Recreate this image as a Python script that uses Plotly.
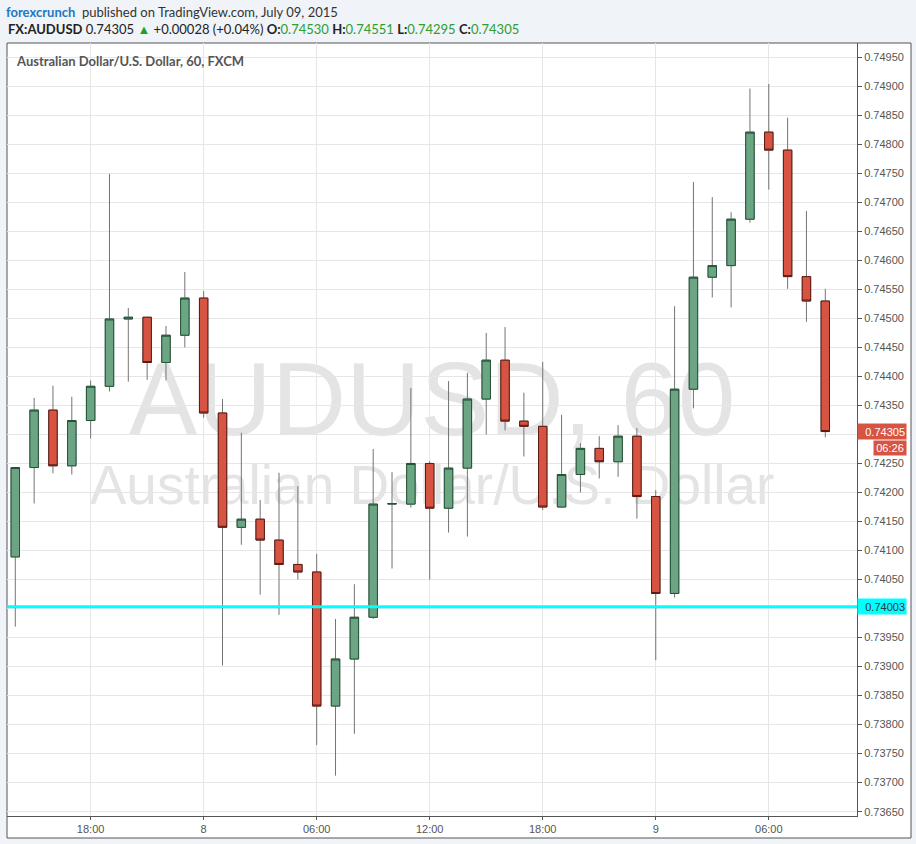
import plotly.graph_objects as go

# Hourly AUD/USD candles, 2015-07-07 14:00 .. 2015-07-09 09:00
times = [
    "2015-07-07 14:00", "2015-07-07 15:00", "2015-07-07 16:00", "2015-07-07 17:00",
    "2015-07-07 18:00", "2015-07-07 19:00", "2015-07-07 20:00", "2015-07-07 21:00",
    "2015-07-07 22:00", "2015-07-07 23:00", "2015-07-08 00:00", "2015-07-08 01:00",
    "2015-07-08 02:00", "2015-07-08 03:00", "2015-07-08 04:00", "2015-07-08 05:00",
    "2015-07-08 06:00", "2015-07-08 07:00", "2015-07-08 08:00", "2015-07-08 09:00",
    "2015-07-08 10:00", "2015-07-08 11:00", "2015-07-08 12:00", "2015-07-08 13:00",
    "2015-07-08 14:00", "2015-07-08 15:00", "2015-07-08 16:00", "2015-07-08 17:00",
    "2015-07-08 18:00", "2015-07-08 19:00", "2015-07-08 20:00", "2015-07-08 21:00",
    "2015-07-08 22:00", "2015-07-08 23:00", "2015-07-09 00:00", "2015-07-09 01:00",
    "2015-07-09 02:00", "2015-07-09 03:00", "2015-07-09 04:00", "2015-07-09 05:00",
    "2015-07-09 06:00", "2015-07-09 07:00", "2015-07-09 08:00", "2015-07-09 09:00",
]
opens = [
    0.74089, 0.74243, 0.74342, 0.74246, 0.74324, 0.74383, 0.74499, 0.74502,
    0.74424, 0.74471, 0.74535, 0.74337, 0.74140, 0.74154, 0.74118, 0.74076,
    0.74063, 0.73832, 0.73913, 0.73985, 0.74180, 0.74180, 0.74250, 0.74173,
    0.74242, 0.74361, 0.74428, 0.74323, 0.74314, 0.74175, 0.74231, 0.74276,
    0.74253, 0.74297, 0.74193, 0.74026, 0.74378, 0.74571, 0.74591, 0.74671,
    0.74821, 0.74790, 0.74572, 0.74530,
]
highs = [
    0.74243, 0.74363, 0.74384, 0.74365, 0.74393, 0.74749, 0.74518, 0.74502,
    0.74487, 0.74580, 0.74547, 0.74361, 0.74303, 0.74187, 0.74234, 0.74211,
    0.74094, 0.73982, 0.74042, 0.74275, 0.74235, 0.74380, 0.74254, 0.74392,
    0.74406, 0.74475, 0.74485, 0.74372, 0.74425, 0.74334, 0.74285, 0.74297,
    0.74316, 0.74311, 0.74204, 0.74521, 0.74735, 0.74709, 0.74683, 0.74896,
    0.74904, 0.74846, 0.74685, 0.74551,
]
lows = [
    0.73969, 0.74181, 0.74233, 0.74231, 0.74293, 0.74374, 0.74391, 0.74394,
    0.74393, 0.74450, 0.74329, 0.73902, 0.74110, 0.74024, 0.73989, 0.74050,
    0.73765, 0.73712, 0.73784, 0.73982, 0.74069, 0.74174, 0.74050, 0.74131,
    0.74124, 0.74300, 0.74307, 0.74262, 0.74170, 0.74174, 0.74200, 0.74224,
    0.74227, 0.74155, 0.73911, 0.74019, 0.74345, 0.74536, 0.74519, 0.74665,
    0.74722, 0.74551, 0.74494, 0.74295,
]
closes = [
    0.74243, 0.74342, 0.74246, 0.74324, 0.74383, 0.74499, 0.74502, 0.74424,
    0.74471, 0.74535, 0.74337, 0.74140, 0.74154, 0.74118, 0.74076, 0.74063,
    0.73832, 0.73913, 0.73985, 0.74180, 0.74181, 0.74250, 0.74173, 0.74242,
    0.74361, 0.74428, 0.74323, 0.74314, 0.74175, 0.74231, 0.74276, 0.74253,
    0.74297, 0.74193, 0.74026, 0.74378, 0.74571, 0.74591, 0.74671, 0.74821,
    0.74790, 0.74572, 0.74530, 0.74305,
]

xtick_vals = ["2015-07-07 18:00", "2015-07-08 00:00", "2015-07-08 06:00",
              "2015-07-08 12:00", "2015-07-08 18:00", "2015-07-09 00:00",
              "2015-07-09 06:00"]
xtick_text = ["18:00", "8", "06:00", "12:00", "18:00", "9", "06:00"]
ytick_vals = [round(0.73650 + 0.0005 * i, 5) for i in range(27)]

support_level = 0.74003
last_price = 0.74305
countdown = "06:26"

# labels hidden under the price tags (as in the original)
hidden_ticks = {0.74000, 0.74300}
ytick_text = ["" if v in hidden_ticks else "%.5f" % v for v in ytick_vals]

GREEN, GREEN_EDGE = "#6ba583", "#225437"
RED, RED_EDGE = "#d75442", "#5b1a13"
WICK = "#737375"

body_hi = [max(o, c) for o, c in zip(opens, closes)]
body_lo = [min(o, c) for o, c in zip(opens, closes)]

fig = go.Figure()
# wicks
fig.add_trace(go.Candlestick(
    x=times, open=opens, high=highs, low=lows, close=closes,
    increasing=dict(line=dict(color=WICK, width=1), fillcolor=GREEN),
    decreasing=dict(line=dict(color=WICK, width=1), fillcolor=RED),
    hoverinfo="skip", showlegend=False,
))
# bodies
fig.add_trace(go.Candlestick(
    x=times, open=opens, high=body_hi, low=body_lo, close=closes,
    increasing=dict(line=dict(color=GREEN_EDGE, width=1), fillcolor=GREEN),
    decreasing=dict(line=dict(color=RED_EDGE, width=1), fillcolor=RED),
    hoverinfo="skip", showlegend=False,
))

L, R, T, B = 7, 59, 43, 28
W, H = 916, 844
PW, PH = W - L - R, H - T - B


def px(x):
    return (x - L) / PW


def py(y):
    return (H - B - y) / PH


AXFONT = dict(family="Liberation Sans, Arial, sans-serif", size=11, color="#555555")

fig.update_layout(
    width=W, height=H,
    margin=dict(l=L, r=R, t=T, b=B, pad=0, autoexpand=False),
    paper_bgcolor="#f0f3f7",
    plot_bgcolor="#ffffff",
    boxgap=0.36,
    showlegend=False,
    xaxis=dict(
        type="date",
        range=["2015-07-07 13:33:36", "2015-07-09 10:41:00"],
        rangeslider=dict(visible=False),
        tickvals=xtick_vals, ticktext=xtick_text,
        showgrid=True, gridcolor="#e6e6e6", gridwidth=1,
        showline=True, linecolor="#555555", linewidth=1,
        ticks="outside", ticklen=3, tickcolor="#555555",
        tickfont=AXFONT, zeroline=False,
    ),
    yaxis=dict(
        side="right",
        range=[0.736425, 0.749746],
        tickvals=ytick_vals, ticktext=ytick_text,
        showgrid=True, gridcolor="#e6e6e6", gridwidth=1,
        showline=True, linecolor="#555555", linewidth=1,
        ticks="outside", ticklen=4, tickcolor="#555555",
        tickfont=AXFONT, zeroline=False,
    ),
)

WMFONT = "Liberation Sans, Arial, sans-serif"
shapes = [
    # white chart box including axis areas
    dict(type="rect", xref="paper", yref="paper",
         x0=px(7), x1=px(911), y0=py(838), y1=py(43),
         fillcolor="#ffffff", line=dict(color="#555555", width=1), layer="below"),
    # watermark
    dict(type="rect", xref="paper", yref="paper",
         x0=px(7), x1=px(857), y0=py(434), y1=py(344),
         line=dict(width=0), fillcolor="rgba(0,0,0,0)", layer="below",
         label=dict(text="AUDUSD, 60", textposition="middle center",
                    font=dict(family=WMFONT, size=103, color="#e4e4e4"))),
    dict(type="rect", xref="paper", yref="paper",
         x0=px(7), x1=px(857), y0=py(505), y1=py(455),
         line=dict(width=0), fillcolor="rgba(0,0,0,0)", layer="below",
         label=dict(text="Australian Dollar/U.S. Dollar", textposition="middle center",
                    font=dict(family=WMFONT, size=55, color="#e4e4e4"))),
    # support line
    dict(type="line", xref="paper", yref="y", x0=0, x1=1,
         y0=support_level, y1=support_level,
         line=dict(color="#00ffff", width=3), layer="above"),
]
fig.update_layout(shapes=shapes)

HFONT = "Lato, Open Sans, sans-serif"
G = "#2e9e2e"
line2 = ("<b>FX:AUDUSD</b> 0.74305 <span style='color:#22a022'>▲</span>"
         " +0.00028 (+0.04%) <b>O:</b><span style='color:" + G + "'>0.74530</span>"
         " <b>H:</b><span style='color:" + G + "'>0.74551</span>"
         " <b>L:</b><span style='color:" + G + "'>0.74295</span>"
         " <b>C:</b><span style='color:" + G + "'>0.74305</span>")
annotations = [
    dict(xref="paper", yref="paper", x=px(4), y=py(12), xanchor="left", yanchor="middle",
         showarrow=False, align="left",
         text="<b><span style='color:#1e78c2'>forexcrunch</span></b>"
              "<span style='color:#333333'>  published on TradingView.com, July 09, 2015</span>",
         font=dict(family=HFONT, size=13, color="#333333")),
    dict(xref="paper", yref="paper", x=px(6), y=py(29), xanchor="left", yanchor="middle",
         showarrow=False, align="left", text=line2,
         font=dict(family=HFONT, size=13, color="#222222")),
    dict(xref="paper", yref="paper", x=px(14), y=py(61), xanchor="left", yanchor="middle",
         showarrow=False, align="left",
         text="<b>Australian Dollar/U.S. Dollar, 60, FXCM</b>",
         font=dict(family=HFONT, size=13, color="#555555")),
    # last price tag
    dict(xref="paper", yref="y", x=1.0, y=last_price, xanchor="left", yanchor="middle",
         showarrow=False, align="right", width=46, height=13, borderpad=1,
         bgcolor="#d75442", text="%.5f" % last_price,
         font=dict(family=WMFONT, size=11, color="#ffffff")),
    dict(xref="paper", yref="y", x=px(907), y=last_price, yshift=-16,
         xanchor="right", yanchor="middle",
         showarrow=False, align="center", width=30, height=12, borderpad=1,
         bgcolor="#d75442", text=countdown,
         font=dict(family=WMFONT, size=11, color="#ffffff")),
    # support tag
    dict(xref="paper", yref="y", x=1.0, y=support_level, xanchor="left", yanchor="middle",
         showarrow=False, align="right", width=46, height=13, borderpad=1,
         bgcolor="#00ffff", text="%.5f" % support_level,
         font=dict(family=WMFONT, size=11, color="#333333")),
]
fig.update_layout(annotations=annotations)

fig.write_html("out.html",
               config={"displayModeBar": False},
               post_script="document.body.style.margin='0';"
                           "document.body.style.overflow='hidden';")
